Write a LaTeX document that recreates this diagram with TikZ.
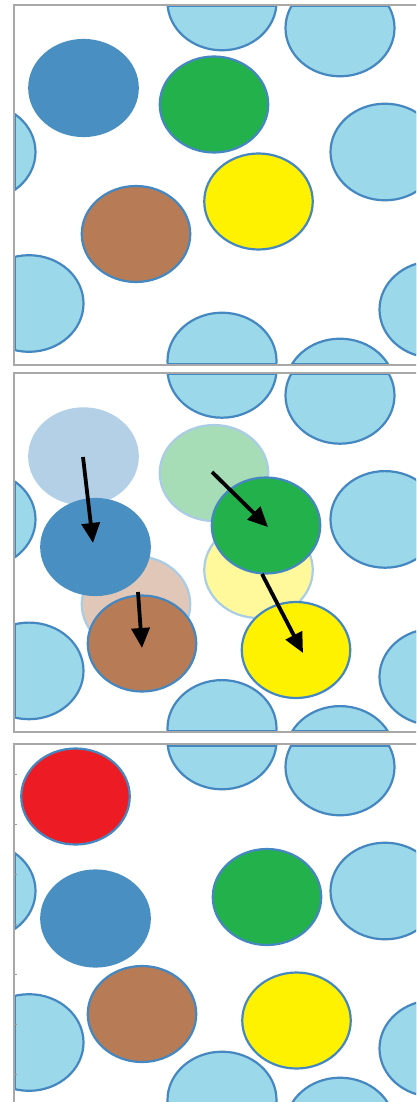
\documentclass[tikz,border=0pt]{standalone}
\usetikzlibrary{arrows.meta,shapes.geometric}
\definecolor{lb}{HTML}{9BD8E9}
\definecolor{bd}{HTML}{4587C0}
\definecolor{dblue}{HTML}{4A8FC2}
\definecolor{pgreen}{HTML}{23B14C}
\definecolor{pyellow}{HTML}{FFF200}
\definecolor{pbrown}{HTML}{B77B56}
\definecolor{pred}{HTML}{ED1C24}
\definecolor{fblue}{HTML}{B4D0E6}
\definecolor{fgreen}{HTML}{A6DDB7}
\definecolor{fyellow}{HTML}{FFF99B}
\definecolor{fbrown}{HTML}{E0C7B8}
\definecolor{fbd}{HTML}{AACCE4}
\definecolor{framecol}{HTML}{A8A8A8}
\newcommand\lbcirc[2]{%
  \fill[lb] (#1,#2) ellipse [x radius=54.5, y radius=48.3];
  \draw[bd, line width=2.2pt] (#1,#2) ellipse [x radius=54.5, y radius=48.3];
  \begin{scope}
    \clip (#1,#2) ellipse [x radius=54.5, y radius=48.3];
    \draw[bd, line width=4.4pt] (0,0) rectangle (404,359.5);
  \end{scope}}
\newcommand\lbset{%
  \lbcirc{208}{-3.3}
  \lbcirc{326}{22.7}
  \lbcirc{-33}{146.7}
  \lbcirc{371}{146.7}
  \lbcirc{15}{298.2}
  \lbcirc{208}{355.7}
  \lbcirc{326}{381.7}
  \lbcirc{420}{304.2}}
\newcommand\panelframe{\draw[framecol, line width=1.8pt] (0,0) rectangle (404,359.5);}
\begin{document}
\begin{tikzpicture}[x=1pt,y=-1pt,
  particle/.style={ellipse, inner sep=0pt, outer sep=0pt, minimum width=108.5pt, minimum height=96pt, line width=2.2pt},
  faded/.style={particle, draw=fbd},
  arr/.style={line width=3.8pt, black, -{Triangle[length=20pt,width=18pt]}}]
\useasboundingbox (0,0) rectangle (416,1102);
\clip (0,0) rectangle (416,1102);
\fill[white] (0,0) rectangle (416,1102);

% ---------- Panel 1 ----------
\begin{scope}[shift={(14,5.3)}]
  \begin{scope}
    \clip (0,0) rectangle (404,359.5);
    \lbset
    \node[particle, fill=dblue, draw=dblue] (b1) at (69.5,82.7) {};
    \node[particle, fill=pgreen, draw=bd] (g1) at (200,99.2) {};
    \node[particle, fill=pyellow, draw=bd] (y1) at (244.5,196.2) {};
    \node[particle, fill=pbrown, draw=bd] (r1) at (122,228.7) {};
  \end{scope}
  \panelframe
\end{scope}

% ---------- Panel 2 ----------
\begin{scope}[shift={(14,372.7)}]
  \begin{scope}
    \clip (0,0) rectangle (404,359.5);
    \lbset
    \node[particle, fill=fblue, draw=fblue] (b2o) at (69.5,83.7) {};
    \node[faded, fill=fgreen] (g2o) at (200,100.3) {};
    \node[faded, fill=fyellow] (y2o) at (244.5,197.3) {};
    \node[faded, fill=fbrown] (r2o) at (122,231.5) {};
    \node[particle, fill=dblue, draw=dblue] (b2) at (81.5,174.3) {};
    \node[particle, fill=pgreen, draw=bd] (g2) at (252,152.8) {};
    \node[particle, fill=pbrown, draw=bd] (r2) at (128,270.8) {};
    \node[particle, fill=pyellow, draw=bd] (y2) at (282,277.3) {};
    \coordinate (ab1) at (69,84.3);   \coordinate (ab2) at (79,170.3);
    \coordinate (ag1) at (198,99.3);  \coordinate (ag2) at (254,154.3);
    \coordinate (ar1) at (124,219.3); \coordinate (ar2) at (128,275.3);
    \coordinate (ay1) at (248,201.3); \coordinate (ay2) at (289,280.3);
    \draw[arr] (ab1) -- (ab2);
    \draw[arr] (ag1) -- (ag2);
    \draw[arr] (ar1) -- (ar2);
    \draw[arr] (ay1) -- (ay2);
  \end{scope}
  \panelframe
\end{scope}

% ---------- Panel 3 ----------
\begin{scope}[shift={(14,744.3)}]
  \begin{scope}
    \clip (0,0) rectangle (404,359.5);
    \lbset
    \node[particle, fill=pred, draw=bd] (red3) at (61.5,52.2) {};
    \node[particle, fill=dblue, draw=dblue] (b3) at (81.5,174.2) {};
    \node[particle, fill=pgreen, draw=bd] (g3) at (253,152.7) {};
    \node[particle, fill=pbrown, draw=bd] (r3) at (128,269.7) {};
    \node[particle, fill=pyellow, draw=bd] (y3) at (282.5,276.2) {};
  \end{scope}
  \panelframe
  \foreach \t in {30,80,...,330} \draw[gray!80, line width=0.8pt] (0.9,\t) -- (2.5,\t);
\end{scope}
\end{tikzpicture}
\end{document}
